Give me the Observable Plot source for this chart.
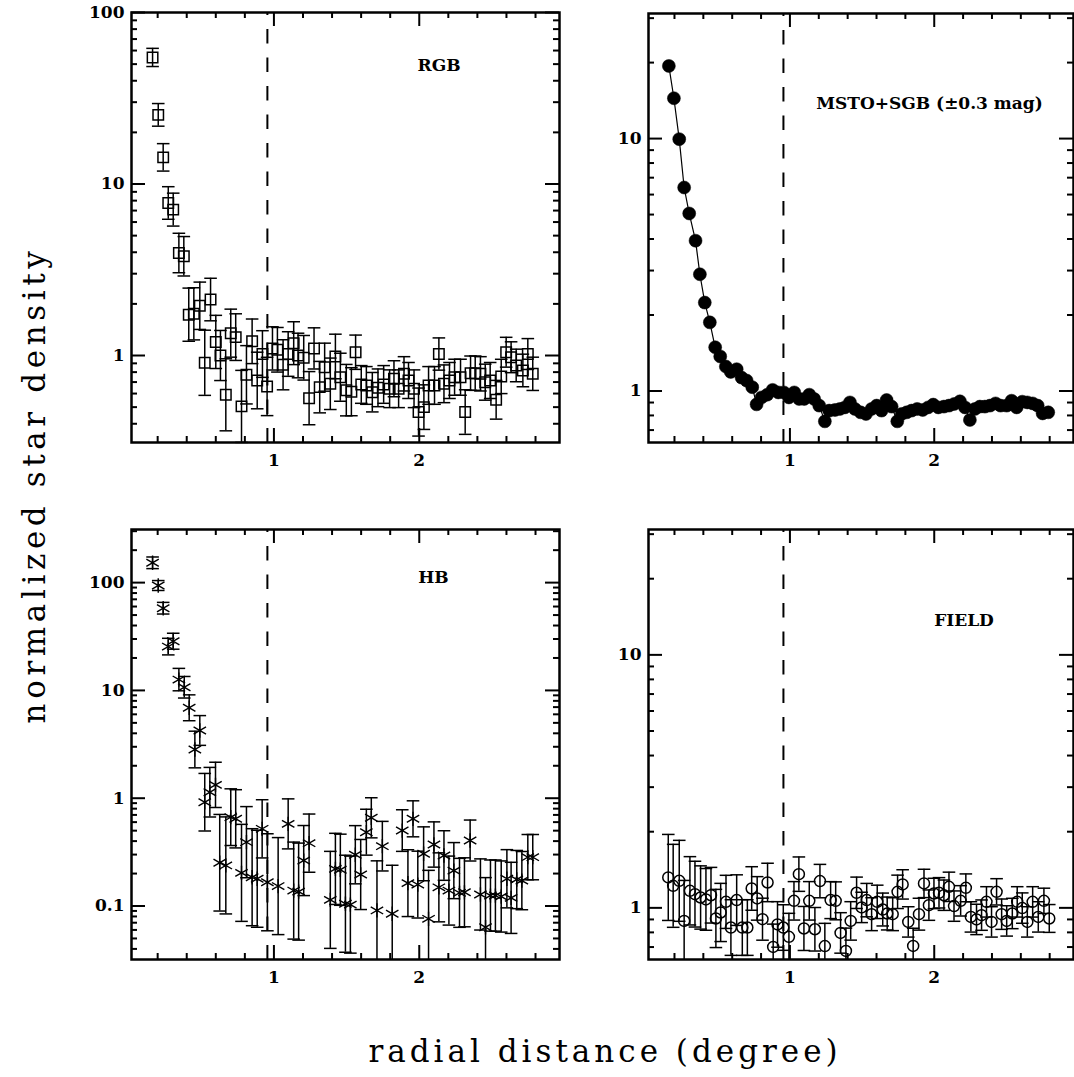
<!DOCTYPE html>
<html><head><meta charset="utf-8">
<script src="https://cdn.jsdelivr.net/npm/d3@7"></script>
<script src="https://cdn.jsdelivr.net/npm/@observablehq/plot@0.6"></script>
<style>
body{margin:0;background:#fff;}
#wrap{position:relative;width:1074px;height:1077px;overflow:hidden;background:#fff;}
.panel{position:absolute;}
.title{position:absolute;font-family:"DejaVu Serif",serif;font-size:31px;line-height:31px;letter-spacing:4px;color:#000;white-space:nowrap;}
</style></head><body>
<div id="wrap"></div>
<script>
// ---------------- data ----------------
const xTitle = "radial distance (degree)";
const yTitle = "normalized star density";
const coreRadius = 0.955;

const xMajorTicks = [1, 2];
const xMinorTicks = [0.2, 0.4, 0.6, 0.8, 1.2, 1.4, 1.6, 1.8, 2.2, 2.4, 2.6, 2.8];
const rgbYMajor = [1, 10, 100];
const rgbYMinor = [0.4, 0.5, 0.6, 0.7, 0.8, 0.9, 2, 3, 4, 5, 6, 7, 8, 9, 20, 30, 40, 50, 60, 70, 80, 90];
const hbYMajor = [0.1, 1, 10, 100];
const hbYMinor = [0.04, 0.05, 0.06, 0.07, 0.08, 0.09, 0.2, 0.3, 0.4, 0.5, 0.6, 0.7, 0.8, 0.9, 2, 3, 4, 5, 6, 7, 8, 9, 20, 30, 40, 50, 60, 70, 80, 90, 200, 300];
const flatYMajor = [1, 10];
const flatYMinor = [0.7, 0.8, 0.9, 2, 3, 4, 5, 6, 7, 8, 9, 20, 30];

// RGB (open squares), errors in dex
const rgbX = [0.165,0.204,0.238,0.273,0.307,0.346,0.380,0.414,0.449,0.490,0.524,0.564,0.600,0.632,0.669,0.703,0.737,0.777,0.811,0.850,0.885,0.921,0.953,0.990,1.024,1.063,1.098,1.136,1.166,1.205,1.242,1.276,1.315,1.349,1.388,1.423,1.457,1.498,1.533,1.562,1.601,1.636,1.677,1.716,1.755,1.796,1.826,1.858,1.895,1.926,1.964,1.995,2.032,2.064,2.105,2.135,2.170,2.208,2.243,2.284,2.316,2.353,2.385,2.421,2.454,2.488,2.529,2.564,2.598,2.632,2.667,2.713,2.747,2.781];
const rgbY = [54.7,25.3,14.3,7.75,7.09,3.96,3.79,1.73,1.75,1.95,0.907,2.12,1.20,1.00,0.590,1.35,1.28,0.505,0.772,1.21,0.715,1.02,0.660,1.10,1.08,0.883,1.02,1.18,1.00,0.970,0.564,1.10,0.654,0.855,0.684,0.987,0.747,0.628,0.615,1.045,0.678,0.669,0.611,0.648,0.678,0.640,0.732,0.640,0.782,0.715,0.640,0.468,0.500,0.669,0.669,1.02,0.684,0.715,0.747,0.747,0.468,0.789,0.789,0.782,0.699,0.715,0.552,0.755,1.045,0.977,0.875,0.818,1.02,0.782];
const rgbErr = [0.053,0.066,0.080,0.095,0.096,0.115,0.115,0.155,0.152,0.138,0.19,0.124,0.155,0.146,0.21,0.14,0.136,0.21,0.17,0.13,0.165,0.136,0.17,0.126,0.13,0.146,0.13,0.125,0.13,0.13,0.155,0.12,0.15,0.14,0.15,0.13,0.14,0.15,0.14,0.10,0.11,0.11,0.115,0.11,0.11,0.11,0.105,0.11,0.10,0.105,0.11,0.14,0.13,0.11,0.11,0.094,0.11,0.105,0.105,0.105,0.13,0.10,0.10,0.10,0.105,0.105,0.113,0.10,0.087,0.09,0.095,0.095,0.09,0.097];

// MSTO+SGB (filled circles joined by a line)
const mstoX = [0.161,0.196,0.233,0.267,0.302,0.346,0.376,0.410,0.445,0.482,0.517,0.556,0.590,0.631,0.665,0.700,0.739,0.769,0.804,0.843,0.880,0.919,0.958,0.993,1.030,1.064,1.099,1.134,1.168,1.203,1.242,1.272,1.312,1.346,1.381,1.416,1.450,1.490,1.527,1.566,1.601,1.635,1.670,1.705,1.744,1.774,1.809,1.843,1.882,1.920,1.958,1.993,2.028,2.067,2.102,2.138,2.178,2.213,2.247,2.282,2.316,2.351,2.386,2.425,2.460,2.502,2.536,2.571,2.610,2.645,2.682,2.717,2.751,2.790];
const mstoY = [19.4,14.45,9.95,6.40,5.05,3.94,2.90,2.24,1.87,1.49,1.37,1.25,1.19,1.22,1.13,1.10,1.035,0.885,0.943,0.967,1.01,0.987,0.987,0.943,0.987,0.930,0.930,0.967,0.930,0.875,0.758,0.836,0.841,0.849,0.861,0.901,0.849,0.823,0.811,0.849,0.875,0.836,0.921,0.867,0.758,0.811,0.823,0.836,0.849,0.841,0.861,0.883,0.861,0.867,0.875,0.888,0.910,0.861,0.768,0.849,0.867,0.867,0.875,0.893,0.875,0.875,0.915,0.861,0.907,0.901,0.893,0.875,0.815,0.823];

// HB (asterisks), errors in dex
const hbX = [0.165,0.204,0.238,0.273,0.307,0.346,0.383,0.417,0.456,0.490,0.524,0.559,0.598,0.627,0.669,0.703,0.737,0.777,0.811,0.850,0.885,0.919,0.955,1.029,1.098,1.136,1.170,1.205,1.242,1.388,1.423,1.457,1.492,1.526,1.560,1.597,1.636,1.670,1.709,1.746,1.814,1.883,1.922,1.957,1.990,2.030,2.064,2.101,2.135,2.170,2.204,2.238,2.277,2.311,2.350,2.421,2.456,2.490,2.524,2.564,2.603,2.632,2.671,2.706,2.747,2.781];
const hbY = [152.7,94.0,57.9,25.5,28.6,12.6,10.7,6.90,2.83,4.25,0.918,1.137,1.33,0.252,0.238,0.667,0.644,0.203,0.391,0.185,0.179,0.520,0.166,0.153,0.578,0.139,0.136,0.264,0.383,0.114,0.221,0.217,0.105,0.103,0.299,0.196,0.484,0.658,0.091,0.359,0.0847,0.501,0.163,0.644,0.158,0.305,0.076,0.372,0.149,0.294,0.139,0.213,0.1325,0.134,0.405,0.128,0.0636,0.125,0.125,0.1225,0.179,0.119,0.176,0.172,0.284,0.284];
const hbErr = [0.054,0.046,0.054,0.077,0.074,0.104,0.10,0.12,0.17,0.138,0.267,0.23,0.21,0.448,0.45,0.263,0.27,0.45,0.33,0.45,0.45,0.27,0.45,0.45,0.232,0.45,0.45,0.325,0.27,0.45,0.33,0.33,0.45,0.45,0.27,0.325,0.213,0.186,0.46,0.23,0.45,0.193,0.31,0.167,0.31,0.25,0.45,0.21,0.32,0.23,0.32,0.26,0.32,0.32,0.19,0.33,0.46,0.33,0.33,0.33,0.27,0.33,0.27,0.27,0.21,0.21];

// FIELD (open circles), errors in dex
const fieldX = [0.157,0.191,0.233,0.267,0.307,0.342,0.381,0.418,0.453,0.487,0.520,0.557,0.591,0.631,0.670,0.705,0.735,0.773,0.810,0.845,0.884,0.914,0.954,0.993,1.028,1.062,1.097,1.134,1.173,1.208,1.242,1.282,1.317,1.351,1.388,1.421,1.462,1.497,1.532,1.566,1.605,1.643,1.674,1.712,1.746,1.781,1.820,1.854,1.894,1.929,1.963,1.998,2.033,2.067,2.102,2.137,2.183,2.219,2.254,2.293,2.328,2.362,2.397,2.432,2.467,2.502,2.541,2.575,2.610,2.645,2.682,2.721,2.760,2.797];
const fieldY = [1.319,1.222,1.279,0.888,1.168,1.133,1.099,1.080,1.122,0.908,0.959,1.056,0.836,1.073,0.836,0.836,1.193,1.090,0.902,1.260,0.701,0.860,0.836,0.768,1.066,1.359,0.829,1.066,0.823,1.276,0.706,1.073,1.066,0.796,0.676,0.888,1.147,1.004,1.073,0.944,1.056,0.985,0.950,0.944,1.157,1.238,0.880,0.707,0.944,1.249,1.025,1.140,1.147,1.122,1.211,1.016,1.066,1.200,0.921,0.900,0.936,1.056,0.880,1.157,0.944,0.888,0.950,1.056,0.998,0.880,1.056,0.921,1.066,0.908];
const fieldErr = [0.170,0.164,0.16,0.16,0.135,0.13,0.125,0.122,0.11,0.115,0.115,0.105,0.11,0.10,0.11,0.11,0.086,0.086,0.083,0.076,0.09,0.09,0.09,0.093,0.076,0.068,0.087,0.076,0.086,0.066,0.09,0.073,0.075,0.08,0.09,0.076,0.062,0.06,0.066,0.065,0.066,0.065,0.065,0.065,0.066,0.058,0.06,0.07,0.063,0.056,0.06,0.06,0.06,0.06,0.058,0.06,0.06,0.055,0.06,0.06,0.06,0.06,0.06,0.052,0.06,0.06,0.06,0.06,0.06,0.06,0.06,0.06,0.05,0.055];

// ---------------- drawing ----------------
const xDomain = [0.02, 2.965];
const capSymbol = {draw(ctx, size) { const w = Math.sqrt(size / Math.PI); ctx.moveTo(-w, 0); ctx.lineTo(w, 0); }};
const wrap = document.getElementById("wrap");

function panel(cfg) {
  const {x, y, err, yDomain, yMajor, yMinor, label, labelDx, labelDy, marker, left, top, width, height, ml, mr, mt, mb, line} = cfg;
  const pw = width - ml - mr, ph = height - mt - mb;
  const [ymin, ymax] = yDomain;
  const rows = x.map((xv, i) => {
    const f = err ? Math.pow(10, err[i]) : 1;
    return {x: xv, y: y[i], lo: y[i] / f, hi: y[i] * f};
  });
  const tk = {stroke: "black", strokeWidth: 2};
  const marks = [
    Plot.ruleX(xMajorTicks, {x: d => d, insetTop: ph - 14, ...tk}),
    Plot.ruleX(xMajorTicks, {x: d => d, insetBottom: ph - 14, ...tk}),
    Plot.ruleX(xMinorTicks, {x: d => d, insetTop: ph - 6, ...tk}),
    Plot.ruleX(xMinorTicks, {x: d => d, insetBottom: ph - 6, ...tk}),
    Plot.ruleY(yMajor, {y: d => d, insetRight: pw - 14, ...tk}),
    Plot.ruleY(yMajor, {y: d => d, insetLeft: pw - 14, ...tk}),
    Plot.ruleY(yMinor, {y: d => d, insetRight: pw - 6, ...tk}),
    Plot.ruleY(yMinor, {y: d => d, insetLeft: pw - 6, ...tk}),
    Plot.ruleX([coreRadius], {x: d => d, stroke: "black", strokeWidth: 2, strokeDasharray: "14.5,14", strokeDashoffset: 11.5})
  ];
  if (err) {
    marks.push(
      Plot.ruleX(rows, {x: "x", y1: d => Math.max(d.lo, ymin), y2: d => Math.min(d.hi, ymax), stroke: "black", strokeWidth: 1.5}),
      Plot.dot(rows.filter(d => d.lo >= ymin), {x: "x", y: "lo", symbol: capSymbol, r: 6.3, fill: "none", stroke: "black", strokeWidth: 1.5}),
      Plot.dot(rows.filter(d => d.hi <= ymax), {x: "x", y: "hi", symbol: capSymbol, r: 6.3, fill: "none", stroke: "black", strokeWidth: 1.5})
    );
  }
  if (line) marks.push(Plot.line(rows, {x: "x", y: "y", stroke: "black", strokeWidth: 1.2}));
  marks.push(
    Plot.dot(rows, {x: "x", y: "y", symbol: marker.symbol, r: marker.r, fill: marker.fill, stroke: "black", strokeWidth: marker.sw}),
    Plot.frame({stroke: "black", strokeWidth: 2.5}),
    Plot.axisX(xMajorTicks, {anchor: "bottom", tickSize: 0, tickPadding: 11, tickFormat: d => String(d), label: null}),
    Plot.axisY(yMajor, {anchor: "left", tickSize: 0, tickPadding: 7, tickFormat: d => String(d), label: null}),
    Plot.text([label], {text: d => d, frameAnchor: "top", dx: labelDx, dy: labelDy, lineAnchor: "middle", fontSize: 17, fontWeight: "bold"})
  );
  const svg = Plot.plot({
    width, height, marginLeft: ml, marginRight: mr, marginTop: mt, marginBottom: mb,
    x: {domain: xDomain},
    y: {type: "log", domain: yDomain},
    style: {fontFamily: "'DejaVu Serif', serif", fontSize: "17px", fontWeight: "bold", color: "black", background: "transparent", overflow: "visible"},
    marks
  });
  const div = document.createElement("div");
  div.className = "panel";
  div.style.left = left + "px";
  div.style.top = top + "px";
  div.appendChild(svg);
  wrap.appendChild(div);
}

panel({x: rgbX, y: rgbY, err: rgbErr, yDomain: [0.311, 100], yMajor: rgbYMajor, yMinor: rgbYMinor,
  label: "RGB", labelDx: 93.5, labelDy: 53,
  marker: {symbol: "square", r: 5.9, fill: "none", sw: 1.5},
  left: 0, top: 0, width: 600, height: 490, ml: 131, mr: 41, mt: 12, mb: 48});
panel({x: mstoX, y: mstoY, err: null, yDomain: [0.625, 31.3], yMajor: flatYMajor, yMinor: flatYMinor,
  label: "MSTO+SGB (±0.3 mag)", labelDx: 68.5, labelDy: 90.5, line: true,
  marker: {symbol: "circle", r: 6.5, fill: "black", sw: 0.5},
  left: 600, top: 0, width: 474, height: 490, ml: 48, mr: 1, mt: 13, mb: 48});
panel({x: hbX, y: hbY, err: hbErr, yDomain: [0.0319, 311], yMajor: hbYMajor, yMinor: hbYMinor,
  label: "HB", labelDx: 88, labelDy: 48.5,
  marker: {symbol: "asterisk", r: 6.8, fill: "none", sw: 1.4},
  left: 0, top: 490, width: 600, height: 500, ml: 131, mr: 41, mt: 39, mb: 31});
panel({x: fieldX, y: fieldY, err: fieldErr, yDomain: [0.625, 31.3], yMajor: flatYMajor, yMinor: flatYMinor,
  label: "FIELD", labelDx: 103, labelDy: 91,
  marker: {symbol: "circle", r: 5.5, fill: "none", sw: 1.5},
  left: 600, top: 490, width: 474, height: 500, ml: 48, mr: 1, mt: 39, mb: 31});

const xt = document.createElement("div");
xt.className = "title";
xt.textContent = xTitle;
xt.style.left = "605px"; xt.style.top = "1051px";
xt.style.transform = "translate(-50%,-50%)";
wrap.appendChild(xt);

const yt = document.createElement("div");
yt.className = "title";
yt.textContent = yTitle;
yt.style.left = "34px"; yt.style.top = "485px";
yt.style.letterSpacing = "4.6px";
yt.style.transform = "translate(-50%,-50%) rotate(-90deg)";
wrap.appendChild(yt);
</script>
</body></html>
